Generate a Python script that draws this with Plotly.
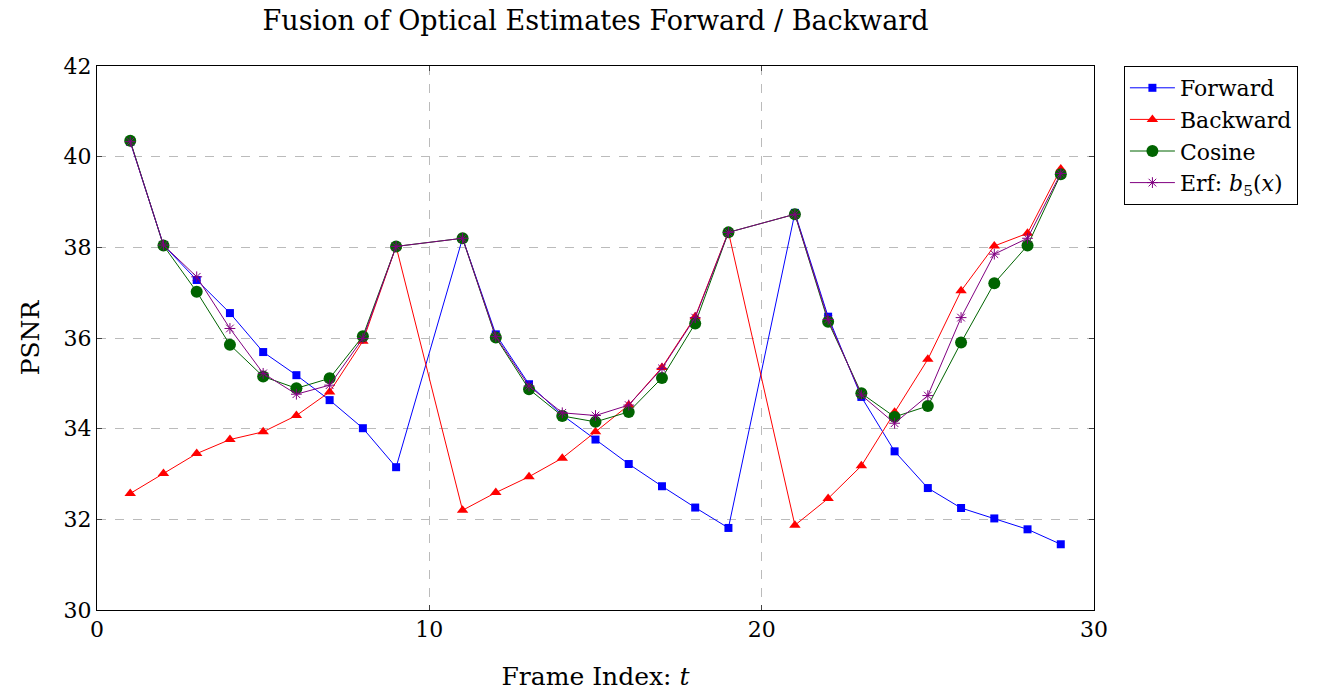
import plotly.graph_objects as go

frames = [1, 2, 3, 4, 5, 6, 7, 8, 9, 11, 12, 13, 14, 15, 16, 17, 18, 19,
          21, 22, 23, 24, 25, 26, 27, 28, 29]

forward = [40.33, 38.05, 37.28, 36.55, 35.69, 35.18, 34.63, 34.01, 33.15,
           38.20, 36.08, 34.98, 34.30, 33.76, 33.22, 32.73, 32.26, 31.81,
           38.76, 36.47, 34.70, 33.50, 32.69, 32.25, 32.02, 31.78, 31.45]

backward = [32.57, 33.01, 33.45, 33.76, 33.93, 34.29, 34.81, 35.93, 38.02,
            32.20, 32.59, 32.94, 33.35, 33.93, 34.52, 35.35, 36.47, 38.34,
            31.87, 32.46, 33.18, 34.36, 35.53, 37.04, 38.03, 38.31, 39.73]

cosine = [40.35, 38.04, 37.02, 35.85, 35.15, 34.89, 35.11, 36.04, 38.02,
          38.20, 36.01, 34.87, 34.28, 34.15, 34.37, 35.12, 36.32, 38.33,
          38.73, 36.36, 34.78, 34.26, 34.50, 35.90, 37.21, 38.04, 39.61]

erf = [40.33, 38.05, 37.35, 36.21, 35.22, 34.76, 34.96, 35.99, 38.02,
       38.20, 36.03, 34.94, 34.35, 34.29, 34.52, 35.33, 36.45, 38.33,
       38.73, 36.41, 34.74, 34.12, 34.73, 36.45, 37.85, 38.20, 39.63]

FONT = "DejaVu Serif, Liberation Serif, serif"

fig = go.Figure()
fig.add_trace(go.Scatter(x=frames, y=forward, mode="lines+markers", name="Forward",
                         line=dict(color="#0000ff", width=1),
                         marker=dict(symbol="square", size=8, color="#0000ff")))
fig.add_trace(go.Scatter(x=frames, y=backward, mode="lines+markers", name="Backward",
                         line=dict(color="#ff0000", width=1),
                         marker=dict(symbol="triangle-up", size=10, color="#ff0000")))
fig.add_trace(go.Scatter(x=frames, y=cosine, mode="lines+markers", name="Cosine",
                         line=dict(color="#006400", width=1),
                         marker=dict(symbol="circle", size=12, color="#006400")))
fig.add_trace(go.Scatter(x=frames, y=erf, mode="lines+markers",
                         name="Erf: <i>b</i><sub>5</sub>(<i>x</i>)",
                         line=dict(color="#800080", width=1),
                         marker=dict(symbol="asterisk-open", size=9,
                                     line=dict(color="#800080", width=1))))

axis_common = dict(showline=True, linecolor="black", linewidth=1, mirror="ticks",
                   ticks="inside", ticklen=5, tickcolor="#444", showgrid=True,
                   gridcolor="#bbbbbb", griddash="dash", gridwidth=1, zeroline=False,
                   automargin=False,
                   tickfont=dict(family=FONT, size=22, color="black"))

fig.update_xaxes(range=[0, 30], tickvals=[0, 10, 20, 30],
                 title=dict(text="Frame Index: <i>t</i>",
                            font=dict(family=FONT, size=25, color="black"), standoff=26),
                 **axis_common)
fig.update_yaxes(range=[30, 42], tickvals=[30, 32, 34, 36, 38, 40, 42],
                 title=dict(text="PSNR", font=dict(family=FONT, size=25, color="black"),
                            standoff=16),
                 **axis_common)

fig.update_layout(
    width=1330, height=691,
    margin=dict(l=97, r=236, t=66, b=81),
    plot_bgcolor="white", paper_bgcolor="white",
    title=dict(text="Fusion of Optical Estimates Forward / Backward",
               font=dict(family=FONT, size=27, color="black"),
               x=(97 + 1094) / 2 / 1330, xanchor="center", y=0.97, yanchor="middle"),
    legend=dict(x=1.03, y=1.0, xanchor="left", yanchor="top",
                bordercolor="black", borderwidth=1, bgcolor="white",
                font=dict(family=FONT, size=22, color="black"),
                tracegroupgap=0, itemwidth=45),
    showlegend=True,
)

fig.write_html("out.html")
